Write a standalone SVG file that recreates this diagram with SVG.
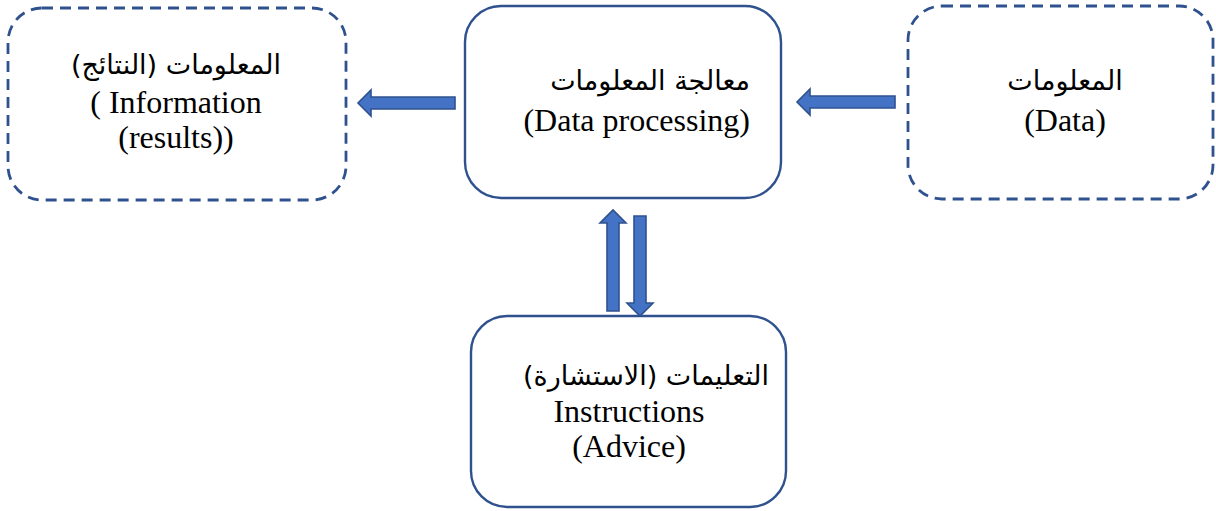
<svg xmlns="http://www.w3.org/2000/svg" width="1216" height="511" viewBox="0 0 1216 511">
<style>
.box{fill:#fff;stroke:#2F528F;stroke-width:2.4}
.dash{stroke-width:2.8;stroke-dasharray:11 7}
.arr{fill:#4472C4;stroke:#2F528F;stroke-width:1.6}
text{font-family:"Liberation Serif","DejaVu Sans",serif;font-size:32px;fill:#000}
.ar{font-family:"DejaVu Sans","Liberation Serif",sans-serif;font-size:27px}
</style>
<g id="connectors">
<polygon class="arr" points="455,97 371,97 371,90 358,103 371,116 371,109 455,109"/>
<polygon class="arr" points="895,96 810,96 810,89 797,102 810,115 810,108 895,108"/>
<polygon class="arr" points="607,311 607,223 600,223 613,210 626,223 619,223 619,311"/>
<polygon class="arr" points="634,216 634,303 627,303 640,316 653,303 646,303 646,216"/>
</g>
<g id="node-information">
<rect class="box dash" x="8" y="8" width="338" height="192" rx="34"/>
<text x="176" y="74" text-anchor="middle" class="ar">المعلومات (النتائج)</text>
<text x="176" y="113" text-anchor="middle">( Information</text>
<text x="176" y="148" text-anchor="middle">(results))</text>
</g>
<g id="node-processing">
<rect class="box" x="465" y="6" width="316" height="192" rx="36"/>
<text x="750" y="90" text-anchor="end" class="ar">معالجة المعلومات</text>
<text x="750" y="131" text-anchor="end">(Data processing)</text>
</g>
<g id="node-data">
<rect class="box dash" x="908" y="6" width="305" height="193" rx="34"/>
<text x="1065" y="90" text-anchor="middle" class="ar">المعلومات</text>
<text x="1065" y="131" text-anchor="middle">(Data)</text>
</g>
<g id="node-instructions">
<rect class="box" x="471" y="316" width="315" height="191" rx="36"/>
<text x="646" y="385" text-anchor="middle" class="ar">التعليمات (الاستشارة)</text>
<text x="629" y="422" text-anchor="middle">Instructions</text>
<text x="629" y="457" text-anchor="middle">(Advice)</text>
</g>
</svg>
